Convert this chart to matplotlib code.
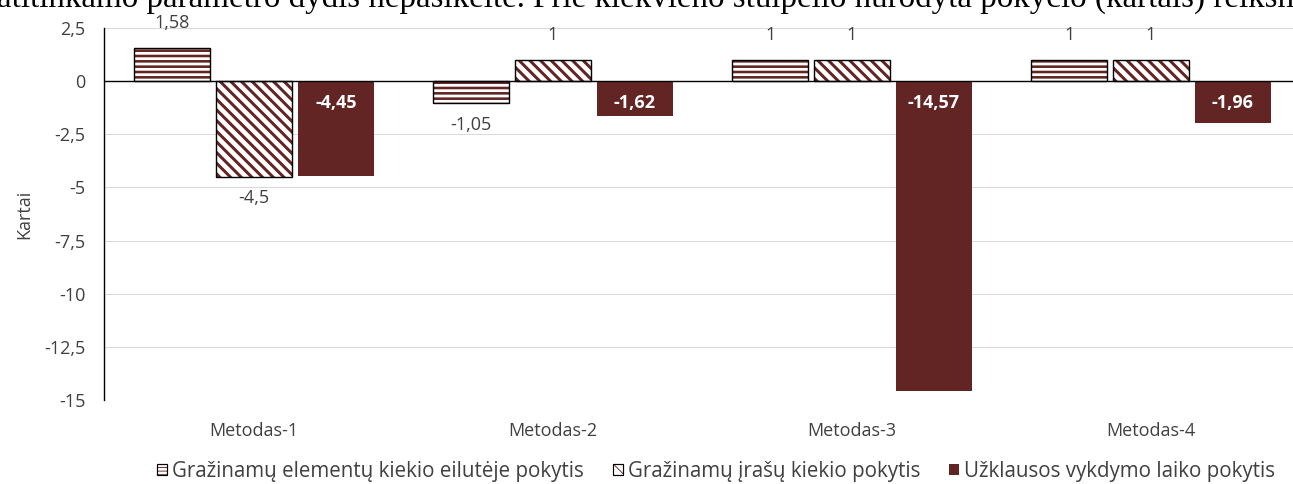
import matplotlib
matplotlib.use('Agg')
import matplotlib.pyplot as plt
from matplotlib.patches import Patch
from matplotlib.legend_handler import HandlerTuple
import numpy as np

# --- data -------------------------------------------------------------
categories = ['Metodas-1', 'Metodas-2', 'Metodas-3', 'Metodas-4']
elementu_pokytis = [1.58, -1.05, 1, 1]
irasu_pokytis = [-4.5, 1, 1, 1]
laiko_pokytis = [-4.45, -1.62, -14.57, -1.96]
series_names = ['Gražinamų elementų kiekio eilutėje pokytis',
                'Gražinamų įrašų kiekio pokytis',
                'Užklausos vykdymo laiko pokytis']
y_ticks = [2.5, 0, -2.5, -5, -7.5, -10, -12.5, -15]
y_label = 'Kartai'
top_text = ('atitinkamo parametro dydis nepasikeitė. Prie kiekvieno stulpelio '
            'nurodyta pokyčio (kartais) reikšmė.')

# --- geometry / style ---------------------------------------------------
DPI = 64
W, H = 1293, 484


def px(v):
    """pixels -> points at the figure dpi"""
    return v * 72 / DPI


def lt(v):
    """number with a decimal comma"""
    return f'{v:g}'.replace('.', ',')


MAROON = '#632523'
TEXT = '#404040'
FS = px(18)
FS_LEG = px(20.5)

plt.rcParams['font.family'] = ['Open Sans', 'DejaVu Sans']

fig = plt.figure(figsize=(W / DPI, H / DPI), dpi=DPI)
ax = fig.add_axes([104.5 / W, 1 - 400 / H, 1196 / W, 372 / H])

x = np.arange(len(categories))
width = 0.257
step = 0.274


def hatched(xpos, vals, hatch, lw_hatch):
    with plt.rc_context({'hatch.linewidth': px(lw_hatch)}):
        fill = ax.bar(xpos, vals, width, facecolor='white', edgecolor=MAROON,
                      linewidth=0, hatch=hatch, zorder=2)
    for p in fill:
        if hasattr(p, 'set_hatch_linewidth'):
            p.set_hatch_linewidth(px(lw_hatch))
    outline = ax.bar(xpos, vals, width, facecolor='none', edgecolor='black',
                     linewidth=px(1.4), zorder=3)
    return outline


b1 = hatched(x - step, elementu_pokytis, '--', 2.6)
b2 = hatched(x, irasu_pokytis, '\\\\', 3.0)
b3 = ax.bar(x + step, laiko_pokytis, width, color=MAROON, linewidth=0, zorder=2)

# value labels outside the end of the hatched bars
for cont, vals in ((b1, elementu_pokytis), (b2, irasu_pokytis)):
    for rect, v in zip(cont, vals):
        up = v >= 0
        ax.annotate(lt(v), (rect.get_x() + rect.get_width() / 2, v),
                    xytext=(0, px(16) if up else -px(12.5)),
                    textcoords='offset points', ha='center',
                    va='bottom' if up else 'top', fontsize=FS, color=TEXT)

# value labels inside the base of the solid bars
for rect, v in zip(b3, laiko_pokytis):
    ax.annotate(lt(v), (rect.get_x() + rect.get_width() / 2, 0),
                xytext=(0, -px(22)), textcoords='offset points',
                ha='center', va='center', fontsize=FS, fontweight='bold',
                color='white', zorder=5)

ax.axhline(0, color='black', lw=px(1.4), zorder=4)

ax.set_xlim(-0.5, len(categories) - 0.5)
ax.set_ylim(-15, 2.5)
ax.set_yticks(y_ticks)
ax.set_yticklabels([lt(t) for t in y_ticks])
ax.set_xticks(x)
ax.set_xticklabels(categories)
ax.grid(axis='y', color='#D9D9D9', lw=px(1))
ax.set_axisbelow(True)
for s in ('top', 'right', 'bottom'):
    ax.spines[s].set_visible(False)
ax.spines['left'].set_color('black')
ax.spines['left'].set_linewidth(px(1.4))
ax.tick_params(axis='y', length=0, pad=px(19), labelsize=FS, labelcolor=TEXT)
ax.tick_params(axis='x', length=0, pad=px(22), labelsize=FS, labelcolor=TEXT)

ax.set_ylabel(y_label, fontsize=FS, color=TEXT, va='center')
ax.yaxis.set_label_coords((24 - 104.5) / 1196, 0.5)

# --- legend -------------------------------------------------------------
h1 = (Patch(facecolor='white', edgecolor=MAROON, lw=0, hatch='---'),
      Patch(facecolor='none', edgecolor='black', lw=px(1.2)))
h2 = (Patch(facecolor='white', edgecolor=MAROON, lw=0, hatch='\\\\'),
      Patch(facecolor='none', edgecolor='black', lw=px(1.2)))
h3 = Patch(facecolor=MAROON, lw=0)
fig.legend([h1, h2, h3], series_names, loc='lower center',
           bbox_to_anchor=(716 / W, -8 / H), ncol=3, frameon=False,
           fontsize=FS_LEG, labelcolor=TEXT, handlelength=0.5,
           handleheight=0.5, handletextpad=0.25, columnspacing=1.4,
           borderpad=0, handler_map={tuple: HandlerTuple(ndivide=1)})

# --- running text line above the chart ---------------------------------
fig.text(-3 / W, 1 - 7 / H, top_text, family='Liberation Serif',
         fontsize=px(33), va='baseline', ha='left', color='black')

fig.savefig('out.png', dpi=DPI)
